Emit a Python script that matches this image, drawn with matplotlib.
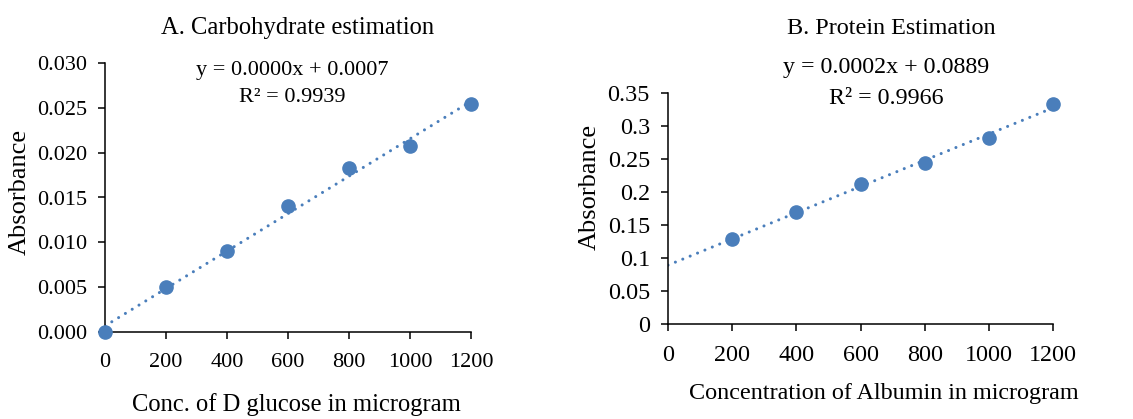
import matplotlib.pyplot as plt
import numpy as np

plt.rcParams['font.family'] = ['Liberation Serif', 'DejaVu Serif']

# glucose standard curve
glu_conc = np.array([0, 200, 400, 600, 800, 1000, 1200])
glu_abs = np.array([0.0, 0.0050, 0.0090, 0.0140, 0.0183, 0.0207, 0.0254])
glu_eq = "y = 0.0000x + 0.0007"
glu_r2 = "R² = 0.9939"

# albumin standard curve
alb_conc = np.array([200, 400, 600, 800, 1000, 1200])
alb_abs = np.array([0.1285, 0.1694, 0.2124, 0.2443, 0.2817, 0.3328])
alb_eq = "y = 0.0002x + 0.0889"
alb_r2 = "R² = 0.9966"

xticks = [0, 200, 400, 600, 800, 1000, 1200]
glu_yticks = [0.000, 0.005, 0.010, 0.015, 0.020, 0.025, 0.030]
alb_yticks = [0, 0.05, 0.1, 0.15, 0.2, 0.25, 0.3, 0.35]
alb_ylabels = ["0", "0.05", "0.1", "0.15", "0.2", "0.25", "0.3", "0.35"]

blue = '#4a7ebb'
W, H = 1133, 419

fig = plt.figure(figsize=(W / 100, H / 100), dpi=100)


def px(x0, x1, ytop, ybot):
    return [x0 / W, 1 - ybot / H, (x1 - x0) / W, (ybot - ytop) / H]


def panel(ax, x, y, yticks, ylabels, ymax, fs):
    # least squares trendline over 0..1200
    m, b = np.polyfit(x, y, 1)
    xt = np.array([0, 1200])
    ax.plot(xt, m * xt + b, color=blue, lw=2.2, linestyle=(0, (0.01, 2.6)),
            dash_capstyle='round', zorder=2)
    ax.plot(x, y, 'o', color=blue, ms=9.5, zorder=3, clip_on=False)
    ax.set_xlim(0, 1200)
    ax.set_ylim(0, ymax)
    ax.set_xticks(xticks)
    ax.set_xticklabels([str(t) for t in xticks])
    ax.set_yticks(yticks)
    ax.set_yticklabels(ylabels)
    for s in ['top', 'right']:
        ax.spines[s].set_visible(False)
    for s in ['left', 'bottom']:
        ax.spines[s].set_linewidth(1.1)
    ax.tick_params(direction='out', length=5, width=1.1, labelsize=fs)
    ax.tick_params(axis='x', pad=10)
    ax.tick_params(axis='y', pad=8)


ax1 = fig.add_axes(px(105, 471, 63, 332))
panel(ax1, glu_conc, glu_abs, glu_yticks, ["%.3f" % t for t in glu_yticks], 0.030, 16)

ax2 = fig.add_axes(px(668, 1053, 93, 324))
panel(ax2, alb_conc, alb_abs, alb_yticks, alb_ylabels, 0.35, 17.4)

# titles, equations and axis labels
fig.text(298 / W, 1 - 28 / H, "A. Carbohydrate estimation", ha='center', va='center', fontsize=17.7)
fig.text(891 / W, 1 - 28 / H, "B. Protein Estimation", ha='center', va='center', fontsize=17.4)
fig.text(292 / W, 1 - 70 / H, glu_eq, ha='center', va='center', fontsize=16)
fig.text(292 / W, 1 - 97 / H, glu_r2, ha='center', va='center', fontsize=16)
fig.text(886 / W, 1 - 68 / H, alb_eq, ha='center', va='center', fontsize=17.3)
fig.text(886 / W, 1 - 99 / H, alb_r2, ha='center', va='center', fontsize=17.3)
fig.text(296 / W, 1 - 405 / H, "Conc. of D glucose in microgram", ha='center', va='center', fontsize=17.7)
fig.text(884 / W, 1 - 393 / H, "Concentration of Albumin in microgram", ha='center', va='center', fontsize=17.4)
fig.text(20 / W, 1 - 192 / H, "Absorbance", ha='center', va='center', rotation=90, fontsize=19)
fig.text(590 / W, 1 - 187 / H, "Absorbance", ha='center', va='center', rotation=90, fontsize=19)

fig.savefig('out.png', dpi=100)
